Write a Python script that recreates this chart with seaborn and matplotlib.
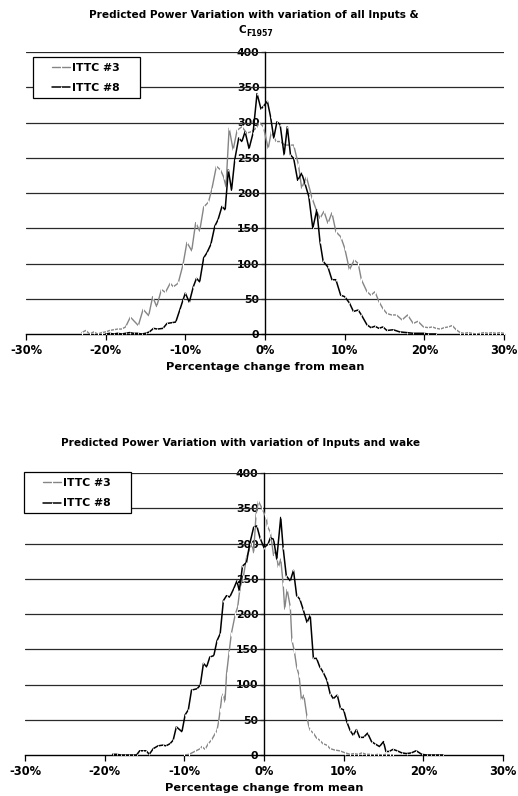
import matplotlib
matplotlib.use("Agg")
import matplotlib.pyplot as plt
from matplotlib.patches import Rectangle
import seaborn as sns
import pandas as pd

# ---------------- data ----------------
top_x_ittc3 = [-23.0,-22.5,-22.0,-21.5,-21.0,-20.5,-20.0,-19.5,-19.0,-18.5,
               -18.0,-17.5,-16.9,-15.9,-15.3,-14.6,-14.1,-13.6,-13.0,-12.5,
               -11.9,-11.5,-10.9,-10.3,-9.8,-9.2,-8.7,-8.2,-7.7,-7.1,
               -6.7,-6.1,-5.6,-5.2,-4.9,-4.5,-4.0,-3.5,-2.9,-2.3,
               -1.7,-1.1,-0.7,-0.2,0.4,0.8,1.4,1.9,2.5,3.1,
               3.6,4.2,4.6,5.2,5.9,6.5,6.9,7.4,7.9,8.4,
               8.9,9.5,10.0,10.6,11.2,11.7,12.1,12.8,13.3,13.8,
               14.3,14.8,15.3,15.9,16.5,17.2,17.9,18.6,19.2,19.9,
               20.5,21.0,21.5,22.0,22.5,23.0,23.5,24.0,24.5,25.0,
               25.5,26.0,26.5,27.0,27.5,28.0,28.5,29.0,29.5,30.0]
top_y_ittc3 = [2,5,0,3,0,2,3,5,6,7,
               7,10,24,12,35,26,53,39,63,59,
               72,67,72,98,130,118,158,146,180,187,
               204,238,233,223,209,292,261,289,294,285,
               287,292,300,294,263,287,273,273,268,268,
               268,240,207,223,193,174,164,174,157,172,
               145,138,122,91,105,100,77,60,55,60,
               46,36,29,27,27,20,27,15,18,10,
               9,10,8,7,9,10,12,6,2,1,
               2,1,0,1,2,1,2,1,2,1]

top_x_ittc8 = [-20.0,-19.5,-19.0,-18.5,-18.0,-17.5,-17.0,-16.5,-16.0,-15.5,
               -15.0,-14.5,-14.0,-13.5,-12.8,-12.3,-11.7,-11.2,-10.7,-10.3,
               -10.0,-9.5,-9.0,-8.6,-8.2,-7.7,-7.3,-6.8,-6.3,-5.9,
               -5.4,-5.0,-4.6,-4.2,-3.8,-3.3,-2.9,-2.5,-2.0,-1.5,
               -1.0,-0.5,-0.2,0.3,0.7,1.1,1.5,1.9,2.4,2.8,
               3.2,3.6,4.1,4.6,5.0,5.5,6.0,6.5,6.9,7.3,
               7.9,8.4,8.9,9.5,10.0,10.6,11.1,11.7,12.1,12.8,
               13.3,13.8,14.3,14.8,15.3,16.1,16.9,17.8,18.6,19.9,
               20.5,21.5]
top_y_ittc8 = [0,1,0,1,0,1,2,1,1,0,
               1,3,8,7,8,15,16,17,34,48,
               58,45,67,79,74,108,115,127,153,162,
               181,176,233,204,247,278,273,287,263,285,
               341,319,323,330,308,278,301,297,254,294,
               254,249,218,228,214,195,150,176,131,103,
               95,77,77,55,53,44,32,34,27,13,
               9,11,8,10,5,6,3,2,1,1,
               0,0]

bot_x_ittc3 = [-10.0,-9.4,-8.7,-8.0,-7.8,-7.4,-7.0,-6.6,-6.1,-5.9,
               -5.7,-5.5,-5.3,-5.1,-4.9,-4.7,-4.4,-4.1,-3.6,-3.3,
               -3.0,-2.6,-2.2,-1.8,-1.5,-1.3,-1.0,-0.7,-0.3,0.1,
               0.3,0.4,0.8,1.2,1.5,1.8,2.1,2.4,2.6,2.9,
               3.3,3.5,3.8,4.1,4.4,4.7,5.0,5.4,5.6,5.8,
               6.2,6.6,7.0,7.4,7.9,8.3,8.9,9.5,10.2,10.8,
               11.3,11.8,12.3,12.8,13.3,13.8,14.3,14.8,15.3,15.8,
               16.2]
bot_y_ittc3 = [0,1,5,9,12,8,16,21,31,35,
               47,64,82,87,75,115,144,172,200,210,
               238,252,280,292,299,287,341,360,351,341,
               337,325,316,283,290,266,278,243,207,235,
               210,163,148,125,113,78,85,54,42,35,
               31,24,21,16,14,9,7,6,3,1,
               2,1,3,1,1,0,1,0,1,0,
               0]

bot_x_ittc8 = [-19.0,-18.5,-18.0,-17.5,-17.0,-16.5,-16.0,-15.6,-15.2,-14.8,
               -14.4,-13.9,-13.3,-12.7,-12.3,-11.8,-11.4,-11.0,-10.3,-9.9,
               -9.5,-9.1,-8.4,-8.0,-7.6,-7.2,-6.8,-6.3,-5.9,-5.5,
               -5.1,-4.7,-4.3,-3.8,-3.4,-3.1,-2.7,-2.2,-1.8,-1.3,
               -0.9,-0.5,0.0,0.5,0.8,1.2,1.6,2.1,2.4,2.8,
               3.3,3.7,4.1,4.5,4.9,5.4,5.8,6.2,6.6,7.0,
               7.4,7.9,8.3,8.7,9.2,9.6,10.0,10.4,10.8,11.2,
               11.6,12.0,12.5,13.0,13.5,13.9,14.5,15.0,15.3,15.7,
               16.2,16.7,17.3,17.9,18.5,19.1,19.8,20.4,21.0,21.5,
               22.0,22.5]
bot_y_ittc8 = [1,1,0,0,0,0,0,6,6,6,
               1,9,13,14,13,16,21,40,33,57,
               64,92,94,99,130,125,139,141,162,172,
               219,226,224,236,247,233,268,273,299,323,
               325,308,294,299,308,306,278,337,294,254,
               247,262,226,221,207,188,198,137,137,125,
               118,106,87,80,85,66,64,47,35,28,
               36,25,25,31,19,16,12,19,5,5,
               8,6,3,2,3,6,1,0,0,0,
               0,0]

series_names = ["ITTC #3", "ITTC #8"]
x_ticks = [-30, -20, -10, 0, 10, 20, 30]
x_tick_labels = ["-30%", "-20%", "-10%", "0%", "10%", "20%", "30%"]
y_ticks = [0, 50, 100, 150, 200, 250, 300, 350, 400]
title_top_line1 = "Predicted Power Variation with variation of all Inputs &"
title_top_main = "C"
title_top_sub = "F1957"
title_bottom = "Predicted Power Variation with variation of Inputs and wake"
x_label = "Percentage change from mean"

# ---------------- styling ----------------
sns.set_theme(style="white")
plt.rcParams["font.family"] = ["DejaVu Sans"]
plt.rcParams["text.color"] = "black"
plt.rcParams["axes.labelcolor"] = "black"
plt.rcParams["xtick.color"] = "black"
plt.rcParams["ytick.color"] = "black"

W, H = 518, 796
fig = plt.figure(figsize=(W / 100, H / 100), dpi=100)
fig.patch.set_facecolor("white")


def make_axes(left, right, top, bottom):
    return fig.add_axes([left / W, 1 - bottom / H, (right - left) / W, (bottom - top) / H])


ax_top = make_axes(26, 504, 52, 334)
ax_bot = make_axes(25, 503, 473, 755)

GRAY = "#858585"
BLACK = "#000000"

# legend box (left, top, right, bottom) and entries anchor (x, y) in pixels
panels = [
    (ax_top, top_x_ittc3, top_y_ittc3, top_x_ittc8, top_y_ittc8,
     (33, 57, 140, 98), (52, 63)),
    (ax_bot, bot_x_ittc3, bot_y_ittc3, bot_x_ittc8, bot_y_ittc8,
     (24, 472, 131, 513), (43, 478)),
]

for ax, x3, y3, x8, y8, box, anchor in panels:
    df3 = pd.DataFrame({"pct": x3, "count": y3})
    df8 = pd.DataFrame({"pct": x8, "count": y8})
    sns.lineplot(data=df3, x="pct", y="count", ax=ax, color=GRAY, lw=1.0,
                 marker="|", markersize=2.5, markeredgewidth=0.8, estimator=None,
                 sort=False, label=series_names[0], zorder=3)
    sns.lineplot(data=df8, x="pct", y="count", ax=ax, color=BLACK, lw=1.1,
                 marker="|", markersize=2.0, markeredgewidth=0.6, estimator=None,
                 sort=False, label=series_names[1], zorder=4)

    ax.set_xlim(-30, 30)
    ax.set_ylim(0, 400)
    ax.set_facecolor("white")
    for yv in y_ticks[1:]:
        ax.axhline(yv, color="#2a2a2a", lw=0.9, zorder=1)

    for s in ["top", "right"]:
        ax.spines[s].set_visible(False)
    ax.spines["left"].set_position(("data", 0))
    ax.spines["left"].set_color("black")
    ax.spines["left"].set_linewidth(1.0)
    ax.spines["bottom"].set_color("black")
    ax.spines["bottom"].set_linewidth(1.0)
    ax.spines["left"].set_zorder(2)

    ax.set_xticks(x_ticks)
    ax.set_xticklabels(x_tick_labels, fontsize=8.3, fontweight="bold")
    ax.set_yticks(y_ticks)
    ax.set_yticklabels([str(v) for v in y_ticks], fontsize=7.8, fontweight="bold")
    ax.tick_params(axis="x", direction="out", length=4, width=0.9, color="black", pad=3,
                   bottom=True, labelcolor="black")
    ax.tick_params(axis="y", direction="out", length=3, width=0.9, color="black", pad=1,
                   left=True, labelcolor="black")
    ax.set_xlabel(x_label, fontsize=8.2, fontweight="bold", labelpad=4, color="black")
    ax.set_ylabel("")

    # legend frame drawn as a plain rectangle, entries without frame on top
    l, t, r, b = box
    rect = Rectangle((l / W, 1 - b / H), (r - l) / W, (b - t) / H,
                     transform=fig.transFigure, facecolor="white", edgecolor="black",
                     lw=0.9, zorder=9, clip_on=False)
    ax.add_patch(rect)
    leg = ax.legend(loc="upper left", bbox_to_anchor=(anchor[0] / W, 1 - anchor[1] / H),
                    bbox_transform=fig.transFigure, borderaxespad=0, borderpad=0,
                    frameon=False, prop={"weight": "bold", "size": 7.8},
                    handlelength=1.7, handletextpad=0.15, labelspacing=0.95)
    for txt in leg.get_texts():
        txt.set_color("black")
    leg.set_zorder(10)

fig.text(254 / W, 1 - 15 / H, title_top_line1, ha="center", va="center",
         fontsize=7.6, fontweight="bold", color="black")
fig.text(246 / W, 1 - 30 / H, title_top_main, ha="right", va="center",
         fontsize=7.6, fontweight="bold", color="black")
fig.text(246 / W, 1 - 33 / H, title_top_sub, ha="left", va="center",
         fontsize=5.6, fontweight="bold", color="black")
fig.text(241 / W, 1 - 443 / H, title_bottom, ha="center", va="center",
         fontsize=7.6, fontweight="bold", color="black")

fig.savefig("out.png", dpi=100, facecolor="white")
